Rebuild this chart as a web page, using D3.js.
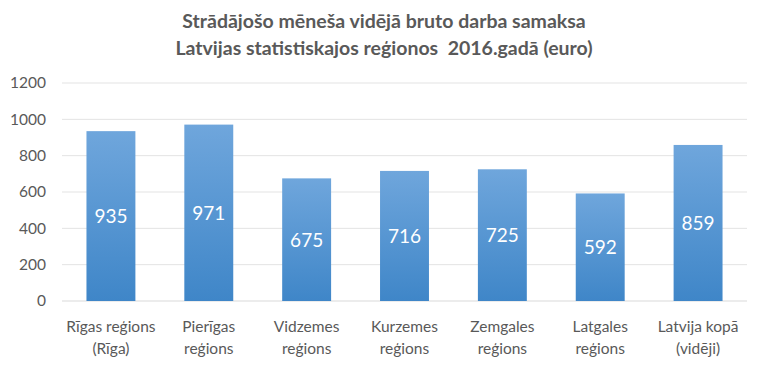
<!DOCTYPE html>
<html><head><meta charset="utf-8">
<script src="https://cdn.jsdelivr.net/npm/d3@7"></script>
<style>body{margin:0;background:#fff}svg{display:block;font-family:Lato,"Open Sans",sans-serif}</style>
</head><body><svg id="c" width="762" height="367"></svg>
<script>
const categories = [["Rīgas reģions","(Rīga)"],["Pierīgas","reģions"],["Vidzemes","reģions"],["Kurzemes","reģions"],["Zemgales","reģions"],["Latgales","reģions"],["Latvija kopā","(vidēji)"]];
const values = [935,971,675,716,725,592,859];
const yTicks = [0,200,400,600,800,1000,1200];
const titleLines = ["Strādājošo mēneša vidējā bruto darba samaksa","Latvijas statistiskajos reģionos  2016.gadā (euro)"];

const svg = d3.select("#c");
const m = {l:62, r:15, t:83, b:66};
const W = 762, H = 367;
const x = d3.scaleBand().domain(d3.range(values.length)).range([m.l, W - m.r]).paddingInner(0.5).paddingOuter(0.25);
const y = d3.scaleLinear().domain([0,1200]).range([H - m.b, m.t]);

const defs = svg.append("defs");
const g = defs.append("linearGradient").attr("id","bg").attr("x1",0).attr("y1",0).attr("x2",0).attr("y2",1);
g.append("stop").attr("offset","0%").attr("stop-color","#6fa6dc");
g.append("stop").attr("offset","100%").attr("stop-color","#3f86c8");

// gridlines
svg.append("g").selectAll("line").data(yTicks).join("line")
  .attr("x1", m.l).attr("x2", W - m.r)
  .attr("y1", d => y(d)).attr("y2", d => y(d))
  .attr("stroke", d => d === 0 ? "#d9d9d9" : "#e3e3e3").attr("stroke-width", 1);

// y axis labels
const ya = svg.append("g").attr("transform", `translate(${m.l - 16},0)`)
  .call(d3.axisLeft(y).tickValues(yTicks).tickFormat(d3.format("d")).tickSize(0).tickPadding(0));
ya.select(".domain").remove();
ya.selectAll("text").attr("fill","#595959").style("font-size","15.5px").style("font-family","Lato,'Open Sans',sans-serif");

// bars
svg.append("g").selectAll("rect").data(values).join("rect")
  .attr("x", (d,i) => x(i)).attr("width", x.bandwidth())
  .attr("y", d => y(d)).attr("height", d => y(0) - y(d))
  .attr("fill", "url(#bg)");

// value labels
svg.append("g").selectAll("text").data(values).join("text")
  .attr("x", (d,i) => x(i) + x.bandwidth()/2)
  .attr("y", d => (y(d) + y(0))/2 + 7)
  .attr("text-anchor","middle").attr("fill","#fff").style("font-size","19px")
  .text(d => d);

// category labels
const cl = svg.append("g").selectAll("text").data(categories).join("text")
  .attr("text-anchor","middle").attr("fill","#595959").style("font-size","15.5px");
cl.each(function(d,i){
  const t = d3.select(this);
  d.forEach((s,j) => t.append("tspan").attr("x", x(i) + x.bandwidth()/2).attr("y", 332 + j*22).text(s));
});

// title
svg.append("g").selectAll("text").data(titleLines).join("text")
  .attr("x", 384).attr("y", (d,i) => 28 + i*27)
  .attr("text-anchor","middle").attr("fill","#595959")
  .style("font-size","19.5px").style("font-weight","bold").style("white-space","pre")
  .text(d => d);
</script></body></html>
